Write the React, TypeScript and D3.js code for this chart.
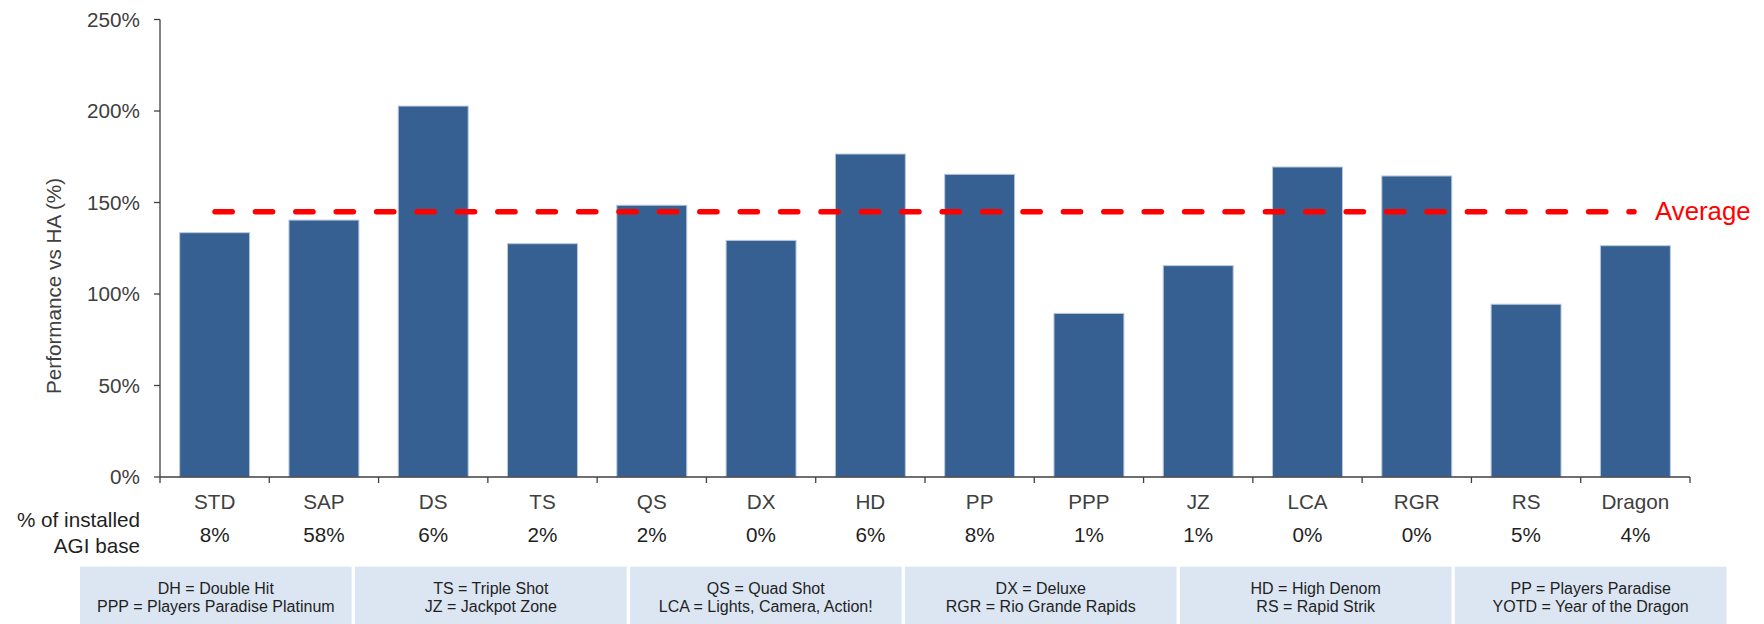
import React from 'react';
import * as d3 from 'd3';

// game families along the x axis
const categories = ['STD', 'SAP', 'DS', 'TS', 'QS', 'DX', 'HD', 'PP', 'PPP', 'JZ', 'LCA', 'RGR', 'RS', 'Dragon'];
// performance vs HA, in %
const performance = [133.5, 140.4, 202.7, 127.5, 148.5, 129.3, 176.5, 165.4, 89.4, 115.5, 169.4, 164.5, 94.4, 126.4];
// % of installed AGI base
const installedBase = ['8%', '58%', '6%', '2%', '2%', '0%', '6%', '8%', '1%', '1%', '0%', '0%', '5%', '4%'];
const averageValue = 145;
const yTicks = [0, 50, 100, 150, 200, 250];
// abbreviation boxes at the bottom
const legendTop = ['DH = Double Hit', 'TS = Triple Shot', 'QS = Quad Shot', 'DX = Deluxe', 'HD = High Denom', 'PP = Players Paradise'];
const legendBottom = ['PPP = Players Paradise Platinum', 'JZ = Jackpot Zone', 'LCA = Lights, Camera, Action!', 'RGR = Rio Grande Rapids', 'RS = Rapid Strik', 'YOTD = Year of the Dragon'];

const W = 1764;
const H = 624;
const FONT = '"Liberation Sans", Arial, sans-serif';
const FS = 20.7;

const App: React.FC = () => {
  const x = d3.scaleBand<string>()
    .domain(categories)
    .range([160, 1690])
    .paddingInner(0.36)
    .paddingOuter(0.18);

  const y = d3.scaleLinear().domain([0, 250]).range([477, 19.5]);

  // boxes for the abbreviation legend
  const box = d3.scaleBand<number>()
    .domain(d3.range(legendTop.length))
    .range([80, 1726.5])
    .paddingInner(0.012);

  const boundaries = d3.range(categories.length + 1).map(i => 160 + i * x.step());

  return (
    <svg width={W} height={H} style={{ position: 'absolute', left: 0, top: 0, background: '#fff' }} fontFamily={FONT}>
      {/* bars */}
      <g>
        {categories.map((c, i) => (
          <rect
            key={c}
            x={x(c)}
            y={y(performance[i])}
            width={x.bandwidth()}
            height={y(0) - y(performance[i])}
            fill="#376092"
            stroke="#b9c8dc"
            strokeWidth={1}
          />
        ))}
      </g>

      {/* y axis */}
      <g>
        <line x1={160} x2={160} y1={y(250)} y2={y(0)} stroke="#404040" strokeWidth={1.3} />
        {yTicks.map(t => (
          <g key={t}>
            <line x1={154} x2={160} y1={y(t)} y2={y(t)} stroke="#404040" strokeWidth={1.3} />
            <text x={140} y={y(t)} dy="0.35em" textAnchor="end" fontSize={FS} fill="#404040">{t}%</text>
          </g>
        ))}
        <text
          transform={`translate(61,286) rotate(-90)`}
          textAnchor="middle"
          fontSize={FS}
          fill="#404040"
        >Performance vs HA (%)</text>
      </g>

      {/* x axis */}
      <g>
        <line x1={160} x2={1690} y1={y(0)} y2={y(0)} stroke="#404040" strokeWidth={1.3} />
        {boundaries.map((b, i) => (
          <line key={i} x1={b} x2={b} y1={y(0)} y2={y(0) + 6} stroke="#404040" strokeWidth={1.3} />
        ))}
        {categories.map(c => (
          <text key={c} x={(x(c) ?? 0) + x.bandwidth() / 2} y={509} textAnchor="middle" fontSize={FS} fill="#404040">{c}</text>
        ))}
      </g>

      {/* installed base row */}
      <g>
        <text x={140} y={527} textAnchor="end" fontSize={FS} fill="#1f1f1f">% of installed</text>
        <text x={140} y={553} textAnchor="end" fontSize={FS} fill="#1f1f1f">AGI base</text>
        {categories.map((c, i) => (
          <text key={c} x={(x(c) ?? 0) + x.bandwidth() / 2} y={542} textAnchor="middle" fontSize={FS} fill="#1f1f1f">{installedBase[i]}</text>
        ))}
      </g>

      {/* average line */}
      <g>
        <line
          x1={215}
          x2={1634}
          y1={y(averageValue)}
          y2={y(averageValue)}
          stroke="#ff0000"
          strokeWidth={5.5}
          strokeDasharray="17.2 23.2"
          strokeLinecap="round"
        />
        <text x={1655} y={y(averageValue) + 8.8} fontSize={25.8} fill="#ff0000">Average</text>
      </g>

      {/* abbreviation boxes */}
      <g>
        {legendTop.map((t, i) => {
          const bx = box(i) ?? 0;
          const cx = bx + box.bandwidth() / 2;
          return (
            <g key={i}>
              <rect x={bx} y={566.7} width={box.bandwidth()} height={H - 566.7} fill="#dce6f2" />
              <text x={cx} y={594} textAnchor="middle" fontSize={16} fill="#1f1f1f">{t}</text>
              <text x={cx} y={612} textAnchor="middle" fontSize={16} fill="#1f1f1f">{legendBottom[i]}</text>
            </g>
          );
        })}
      </g>
    </svg>
  );
};

export default App;
